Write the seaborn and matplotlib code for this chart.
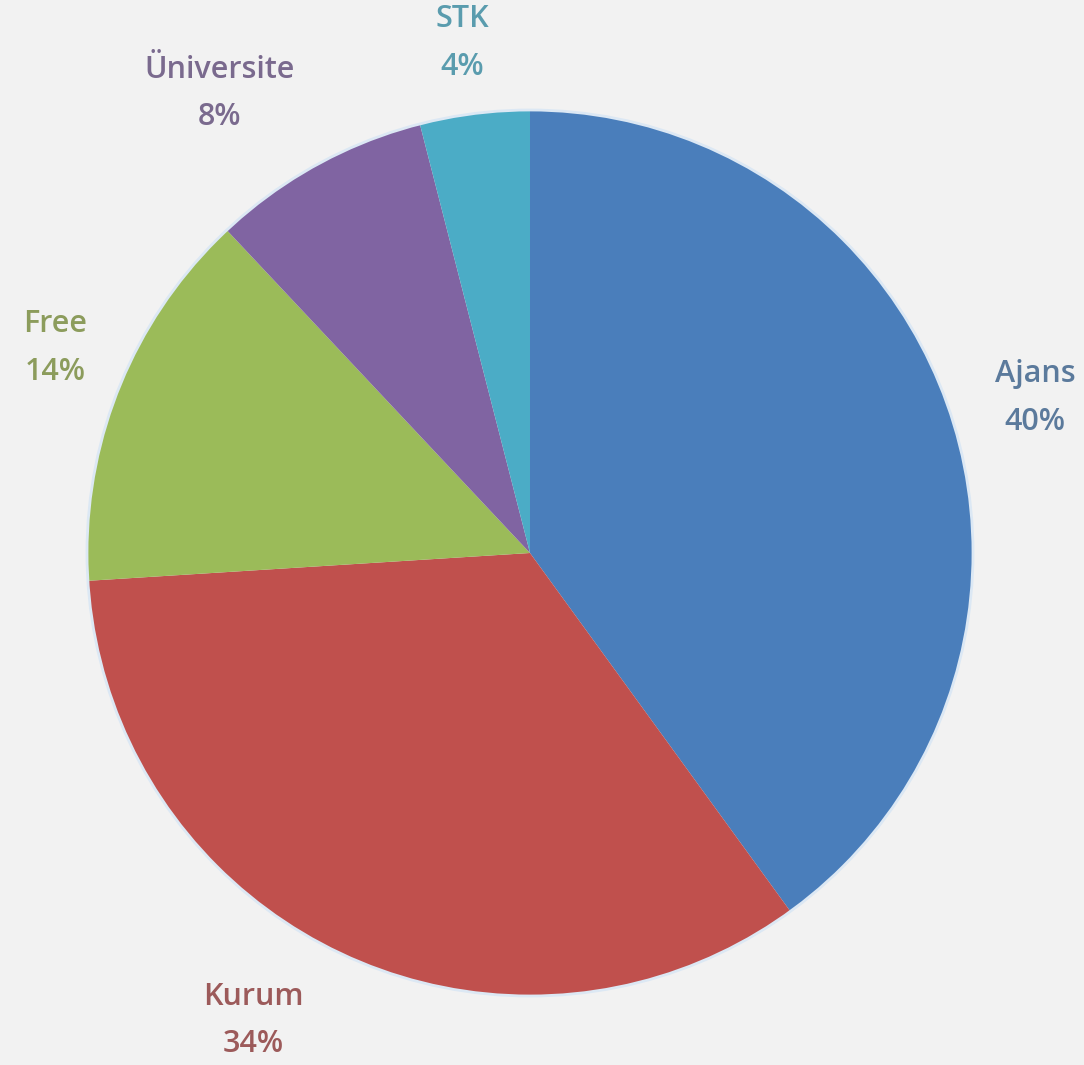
import matplotlib
matplotlib.use("Agg")
import matplotlib.pyplot as plt
import seaborn as sns

# Données du graphique
categories = ["Ajans", "Kurum", "Free", "Üniversite", "STK"]
values = [40, 34, 14, 8, 4]
slice_colors = ["#4a7ebb", "#c0504d", "#9bbb59", "#8064a2", "#4bacc6"]
label_colors = ["#5b7a9c", "#9c5a5a", "#8c9c5c", "#7a6a8e", "#5a9cae"]
# position des étiquettes (en rayons du camembert), comme dans Excel
label_xy = [(1.14, 0.35), (-0.625, -1.056), (-1.072, 0.463), (-0.70, 1.038), (-0.153, 1.151)]

sns.set_style("white")
plt.rcParams["font.family"] = ["Open Sans", "DejaVu Sans"]

fig = plt.figure(figsize=(10.84, 10.65), dpi=100, facecolor="#f2f2f2")
ax = fig.add_axes([0, 0, 1, 1])
ax.set_facecolor("#f2f2f2")

labels = [f"{c}\n{v}%" for c, v in zip(categories, values)]
wedges, texts = ax.pie(values, labels=labels, colors=slice_colors, startangle=90,
                       counterclock=False, labeldistance=1.2,
                       wedgeprops=dict(linewidth=0),
                       textprops=dict(fontsize=22, fontweight=600, linespacing=1.75))
# liseré clair autour du camembert
ax.add_patch(plt.Circle((0, 0), 1.0, fill=False, edgecolor="#dce8f4", linewidth=2))
for t, col, xy in zip(texts, label_colors, label_xy):
    t.set_color(col)
    t.set_ha("center")
    t.set_va("center")
    t.set_position(xy)

# Échelle : rayon ~443 px, centre (530, 553)
r = 443.0
ax.set_xlim(-530 / r, (1084 - 530) / r)
ax.set_ylim(-(1065 - 553) / r, 553 / r)
ax.set_aspect("auto")
ax.axis("off")

fig.savefig("out.png", dpi=100, facecolor=fig.get_facecolor())
